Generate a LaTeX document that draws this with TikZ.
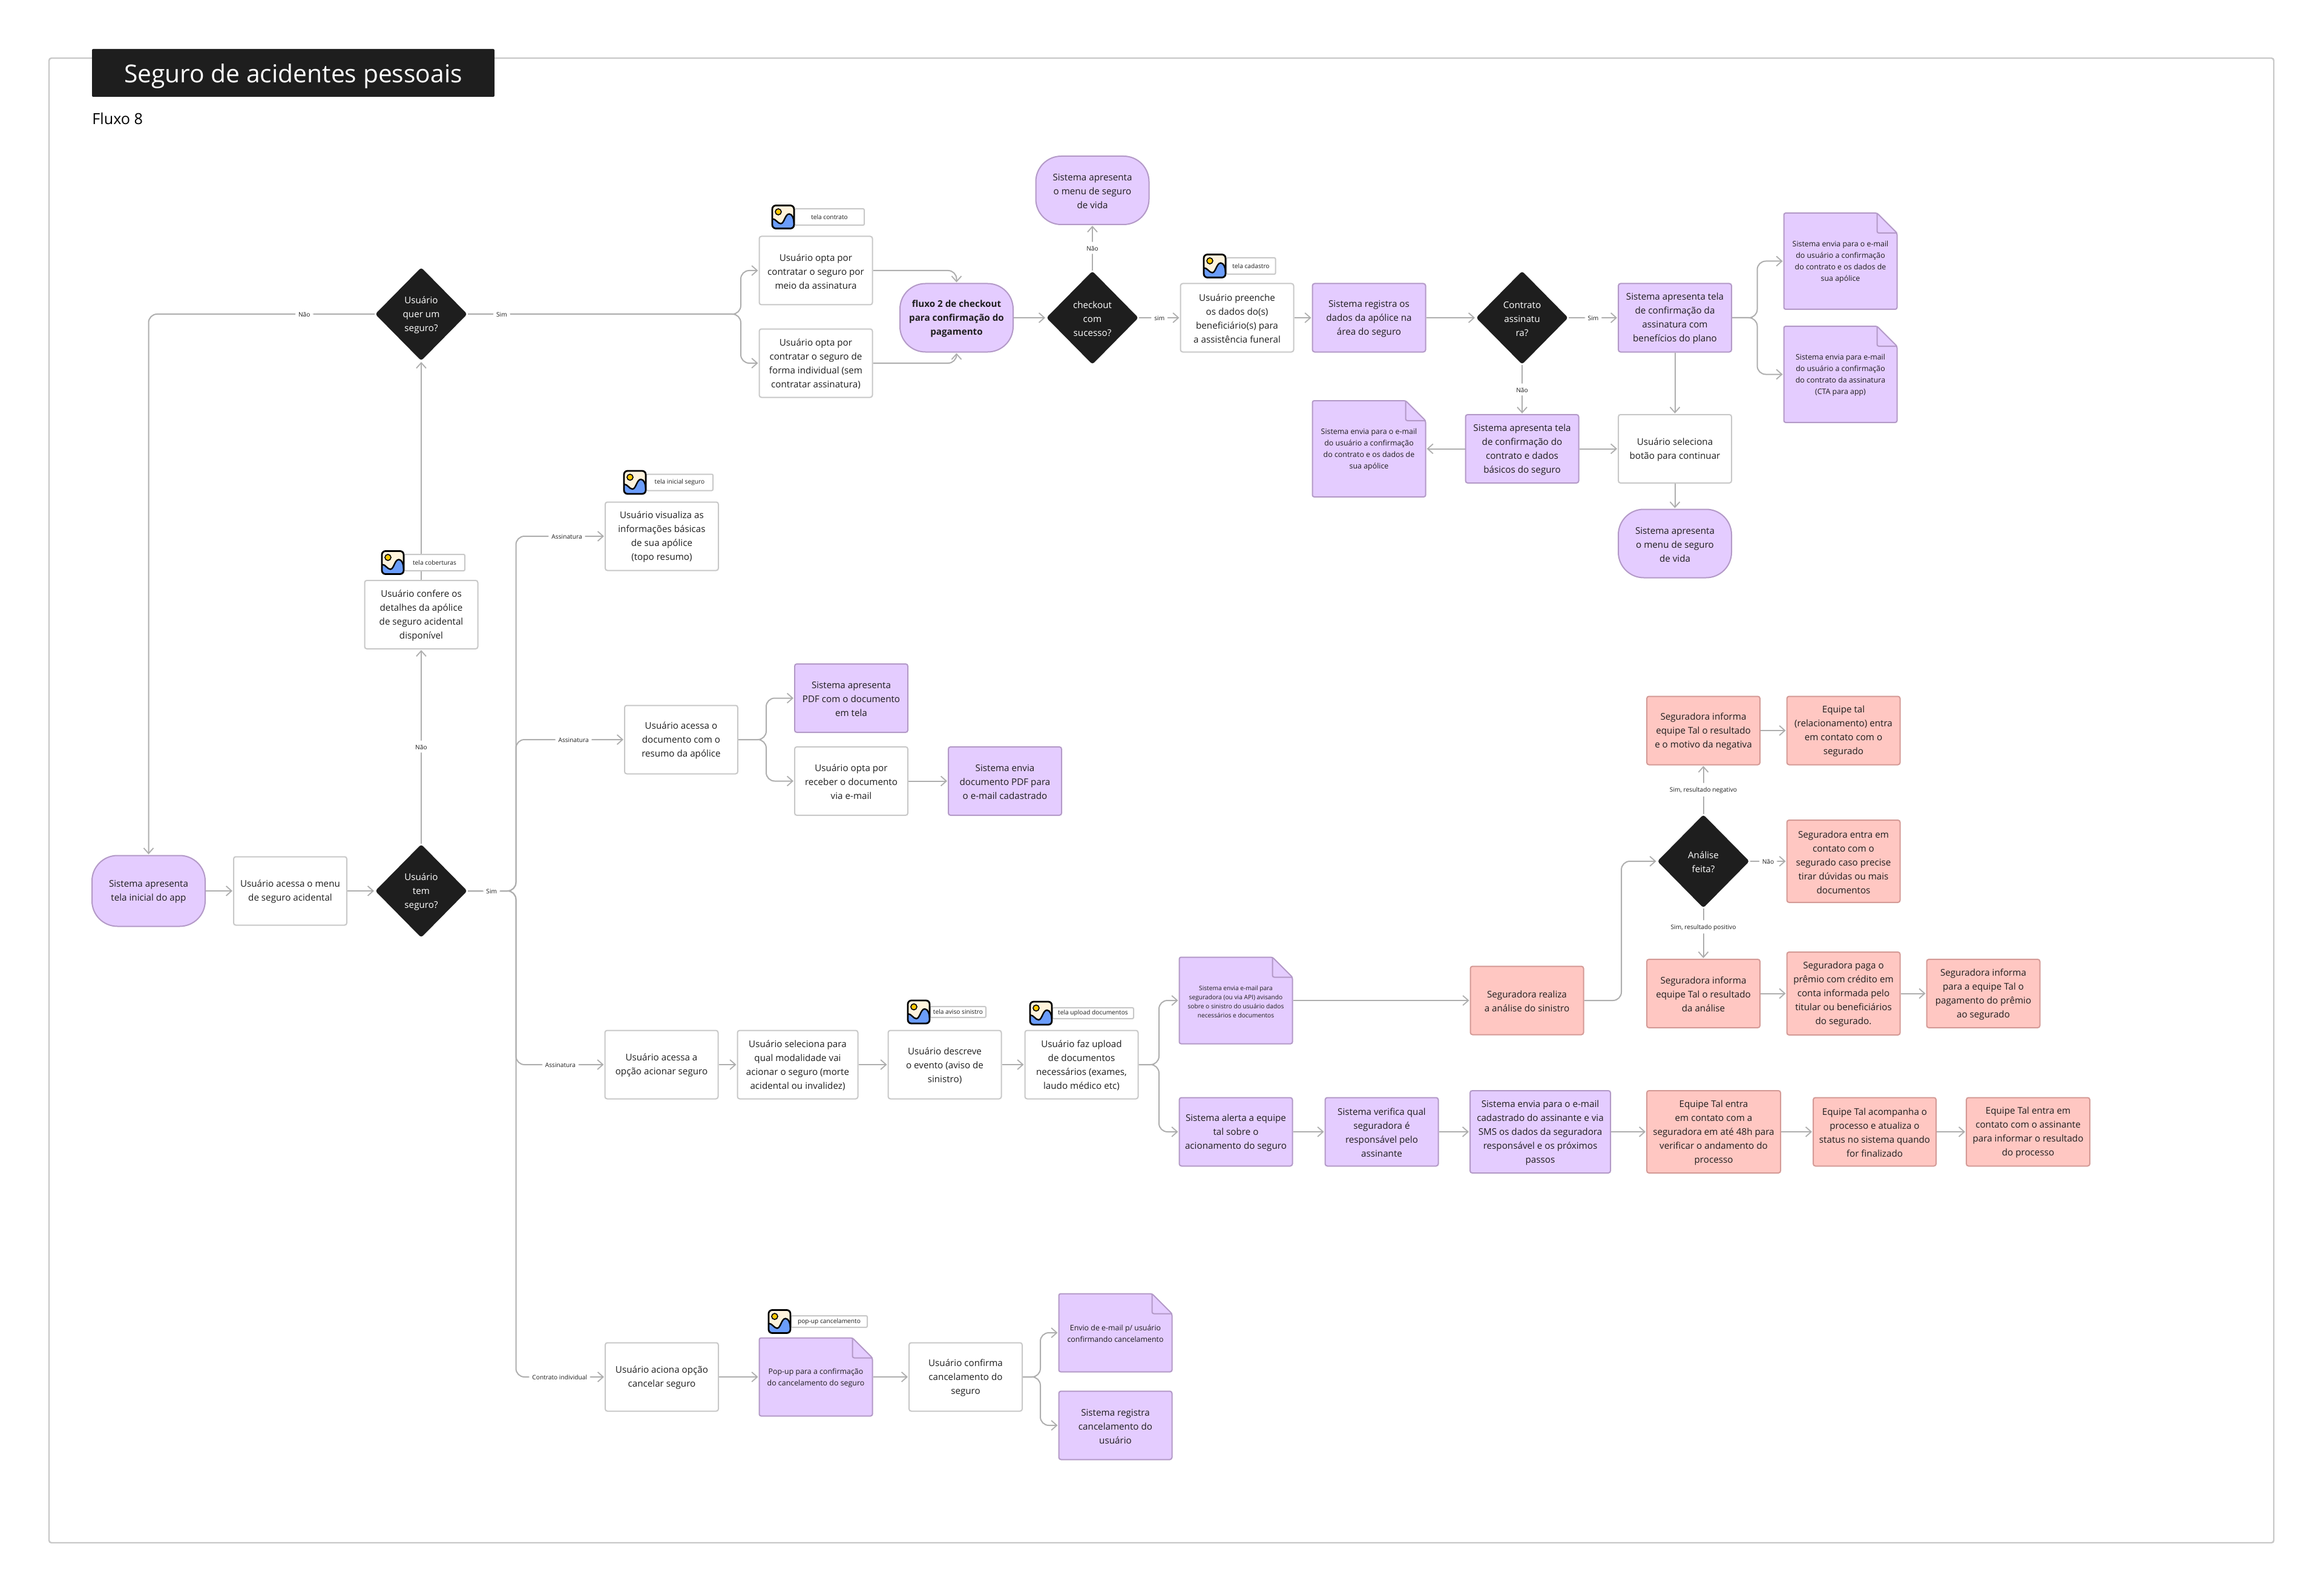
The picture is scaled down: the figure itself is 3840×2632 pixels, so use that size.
\documentclass[tikz,border=0pt]{standalone}
\usepackage{fontspec}
\setmainfont{Open Sans}
\usetikzlibrary{arrows.meta,backgrounds,shapes.geometric}

\definecolor{roxo}{HTML}{E4CCFF}
\definecolor{roxoborda}{HTML}{B399C7}
\definecolor{rosa}{HTML}{FFC7C2}
\definecolor{rosaborda}{HTML}{D49A96}
\definecolor{cinza}{HTML}{C8C8C8}
\definecolor{linha}{HTML}{AEAEAE}
\definecolor{escuro}{HTML}{1E1E1E}
\definecolor{creme}{HTML}{FFF3DC}
\definecolor{ceu}{HTML}{6B9DFB}
\definecolor{sol}{HTML}{FFC800}

\tikzset{
	tm/.style 2 args={minimum width=#1*0.5pt, minimum height=#2*0.5pt},
	wh/.style 2 args={tm={#1}{#2}, text width=#1*0.5pt-2pt},
	empurra/.style={execute at begin node={\rule{0pt}{#1}}},
	base/.style={inner sep=0pt, outer sep=0pt, align=flush center, line width=1pt, text=escuro,
		font=\fontsize{7.6}{11.5}\selectfont, wh={187}{113}},
	userbox/.style={base, empurra=7.2pt, draw=cinza, fill=white, rounded corners=1.8pt},
	sysbox/.style={base, empurra=7.2pt, draw=roxoborda, fill=roxo, rounded corners=1.8pt},
	segbox/.style={base, empurra=7.2pt, draw=rosaborda, fill=rosa, rounded corners=1.8pt},
	pillbox/.style={base, empurra=7.2pt, draw=roxoborda, fill=roxo, rounded corners=21pt},
	docbox/.style={base, empurra=6.2pt, font=\fontsize{6.2}{9.5}\selectfont, wh={187}{159}},
	decision/.style={base, empurra=7.2pt, diamond, draw=none, fill=escuro, text=white, rounded corners=2pt,
		text width=36pt, tm={152}{154}},
	tagbox/.style={base, text width=, draw=cinza, fill=white, rounded corners=1pt, font=\fontsize{5.1}{6}\selectfont},
	edgelabel/.style={inner sep=2.5pt, fill=white, text=escuro, font=\fontsize{5.1}{6}\selectfont,
		execute at begin node={\rule{0pt}{4.8pt}}},
	flow/.style={draw=linha, line width=1pt, rounded corners=7pt, shorten >=1pt, shorten <=0.5pt,
		-{Straight Barb[length=4.5pt,width=8pt,line width=0.9pt]}},
	docline/.style={draw=roxoborda, line width=1pt, rounded corners=1.5pt},
	pics/telaicon/.style={code={
		\fill[creme, rounded corners=3pt] (-18,-19) rectangle (18,19);
		\begin{scope}
			\clip[rounded corners=3pt] (-18,-19) rectangle (18,19);
			\fill[ceu] (-18,3) .. controls (-12,3) and (-9,11) .. (-4,11)
				.. controls (2,11) and (3,-5) .. (10,-5) .. controls (15,-5) and (18,3) .. (18,10)
				-- (18,19) -- (-18,19) -- cycle;
			\draw[black, line width=1.2pt] (-18,3) .. controls (-12,3) and (-9,11) .. (-4,11)
				.. controls (2,11) and (3,-5) .. (10,-5) .. controls (15,-5) and (18,3) .. (18,10);
		\end{scope}
		\draw[black, line width=0.8pt, fill=sol] (-8,-8.5) circle (2.5pt);
		\draw[black, line width=1.4pt, rounded corners=3pt] (-18,-19) rectangle (18,19);
	}},
}
\newcommand{\dobra}[1]{
	\draw[docline, fill=roxo] (#1.north west) -- ([xshift=-16.5pt]#1.north east) -- ([yshift=-16.5pt]#1.north east)
		-- (#1.south east) -- (#1.south west) -- cycle;
	\draw[docline] ([xshift=-16.5pt]#1.north east) -- ([xshift=-16.5pt,yshift=-16.5pt]#1.north east) -- ([yshift=-16.5pt]#1.north east);
}

\begin{document}
\begin{tikzpicture}[x=0.5pt,y=-0.5pt]
\useasboundingbox (0,0) rectangle (3840,2632);

% titulo
\node[base, empurra=20.5pt, fill=escuro, text=white, rounded corners=1pt, wh={665}{79}, font=\fontsize{20.4}{24}\selectfont] (titulo) at (484.5,120.5) {Seguro de acidentes pessoais};
\node[inner sep=0pt, anchor=west, font=\fontsize{12.6}{14}\selectfont] (fluxo) at (152,196) {Fluxo 8};

% coluna inicial
\node[pillbox, wh={187}{117}] (inicio) at (245.5,1472) {Sistema apresenta\\tela inicial do app};
\node[userbox] (menu) at (479.5,1472) {Usuário acessa o menu\\de seguro acidental};
\node[decision] (dtem) at (696,1472) {Usuário\\tem\\seguro?};
\node[userbox] (confere) at (696,1015.5) {Usuário confere os\\detalhes da apólice\\de seguro acidental\\disponível};
\node[decision] (dquer) at (696,519) {Usuário\\quer um\\seguro?};

% contratacao
\node[userbox] (optaassin) at (1348,447) {Usuário opta por\\contratar o seguro por\\meio da assinatura};
\node[userbox] (optaind) at (1348,600) {Usuário opta por\\contratar o seguro de\\forma individual (sem\\contratar assinatura)};
\node[pillbox, font=\fontsize{7.6}{11.5}\selectfont\bfseries] (checkout) at (1580.5,525) {fluxo 2 de checkout\\para confirmação do\\pagamento};
\node[decision] (dcheck) at (1805,525) {checkout\\com\\sucesso?};
\node[pillbox] (menuvida) at (1805,314.5) {Sistema apresenta\\o menu de seguro\\de vida};
\node[userbox] (benef) at (2044,525) {Usuário preenche\\os dados do(s)\\beneficiário(s) para\\a assistência funeral};
\node[sysbox] (registra) at (2262,525) {Sistema registra os\\dados da apólice na\\área do seguro};
\node[decision] (dassin) at (2515,525) {Contrato\\assinatu\\ra?};
\node[sysbox] (confassin) at (2767.5,525) {Sistema apresenta tela\\de confirmação da\\assinatura com\\benefícios do plano};
\node[docbox] (mailapol) at (3041,431.5) {Sistema envia para o e-mail\\do usuário a confirmação\\do contrato e os dados de\\sua apólice};
\node[docbox] (mailcta) at (3041,618.5) {Sistema envia para e-mail\\do usuário a confirmação\\do contrato da assinatura\\(CTA para app)};
\node[sysbox] (confcontr) at (2515,741.5) {Sistema apresenta tela\\de confirmação do\\contrato e dados\\básicos do seguro};
\node[docbox] (maildados) at (2262,741.5) {Sistema envia para o e-mail\\do usuário a confirmação\\do contrato e os dados de\\sua apólice};
\node[userbox] (botao) at (2767.5,741.5) {Usuário seleciona\\botão para continuar};
\node[pillbox] (menuvidab) at (2767.5,898) {Sistema apresenta\\o menu de seguro\\de vida};

% consulta
\node[userbox] (resumo) at (1093.5,886) {Usuário visualiza as\\informações básicas\\de sua apólice\\(topo resumo)};
\node[userbox] (acessadoc) at (1125.5,1222) {Usuário acessa o\\documento com o\\resumo da apólice};
\node[sysbox] (verpdf) at (1406.5,1153.5) {Sistema apresenta\\PDF com o documento\\em tela};
\node[userbox] (optapdf) at (1406.5,1290.5) {Usuário opta por\\receber o documento\\via e-mail};
\node[sysbox] (enviapdf) at (1660.5,1290.5) {Sistema envia\\documento PDF para\\o e-mail cadastrado};

% sinistro
\node[userbox] (acionar) at (1093,1759) {Usuário acessa a\\opção acionar seguro};
\node[userbox, wh={199}{113}] (modal) at (1318,1759) {Usuário seleciona para\\qual modalidade vai\\acionar o seguro (morte\\acidental ou invalidez)};
\node[userbox] (evento) at (1561,1759) {Usuário descreve\\o evento (aviso de\\sinistro)};
\node[userbox] (upload) at (1787,1759) {Usuário faz upload\\de documentos\\necessários (exames,\\laudo médico etc)};
\node[docbox, wh={187}{143}, empurra=5.1pt, font=\fontsize{5.1}{7.6}\selectfont] (mailseg) at (2042,1653) {Sistema envia e-mail para\\seguradora (ou via API) avisando\\sobre o sinistro do usuário dados\\necessários e documentos};
\node[segbox] (analise) at (2523,1653) {Seguradora realiza\\a análise do sinistro};
\node[decision] (dfeita) at (2814.5,1423) {Análise\\feita?};
\node[segbox] (negativa) at (2814.5,1207) {Seguradora informa\\equipe Tal o resultado\\e o motivo da negativa};
\node[segbox] (relac) at (3046,1207) {Equipe tal\\(relacionamento) entra\\em contato com o\\segurado};
\node[segbox, wh={187}{136}] (duvidas) at (3046,1423) {Seguradora entra em\\contato com o\\segurado caso precise\\tirar dúvidas ou mais\\documentos};
\node[segbox] (positiva) at (2814.5,1641.5) {Seguradora informa\\equipe Tal o resultado\\da análise};
\node[segbox, wh={187}{137}] (premio) at (3046,1641.5) {Seguradora paga o\\prêmio com crédito em\\conta informada pelo\\titular ou beneficiários\\do segurado.};
\node[segbox] (infopag) at (3277,1641.5) {Seguradora informa\\para a equipe Tal o\\pagamento do prêmio\\ao segurado};
\node[sysbox] (alerta) at (2042,1870) {Sistema alerta a equipe\\tal sobre o\\acionamento do seguro};
\node[sysbox] (verifica) at (2283,1870) {Sistema verifica qual\\seguradora é\\responsável pelo\\assinante};
\node[sysbox, wh={232}{136}] (sms) at (2545,1870) {Sistema envia para o e-mail\\cadastrado do assinante e via\\SMS os dados da seguradora\\responsável e os próximos\\passos};
\node[segbox, wh={221}{136}] (contato) at (2831.5,1870) {Equipe Tal entra\\em contato com a\\seguradora em até 48h para\\verificar o andamento do\\processo};
\node[segbox, wh={203}{113}] (acompanha) at (3097.5,1870) {Equipe Tal acompanha o\\processo e atualiza o\\status no sistema quando\\for finalizado};
\node[segbox, wh={204}{113}] (resultado) at (3351,1870) {Equipe Tal entra em\\contato com o assinante\\para informar o resultado\\do processo};

% cancelamento
\node[userbox] (cancela) at (1093.5,2275) {Usuário aciona opção\\cancelar seguro};
\node[docbox, wh={187}{129}] (popup) at (1348,2275) {Pop-up para a confirmação\\do cancelamento do seguro};
\node[userbox] (confcanc) at (1595.5,2275) {Usuário confirma\\cancelamento do\\seguro};
\node[docbox, wh={187}{129}] (mailcanc) at (1843,2202) {Envio de e-mail p/ usuário\\confirmando cancelamento};
\node[sysbox] (regcanc) at (1843,2355) {Sistema registra\\cancelamento do\\usuário};

% telas
\node[tagbox, tm={115}{27}] (tagcontrato) at (1370.5,358.5) {tela contrato};
\node[tagbox, tm={81}{27}] (tagcadastro) at (2067,439.5) {tela cadastro};
\node[tagbox, tm={100}{27}] (tagcober) at (718,929.5) {tela coberturas};
\node[tagbox, tm={110}{27}] (taginicial) at (1123,797) {tela inicial seguro};
\node[tagbox, tm={92}{18}] (tagaviso) at (1583,1672) {tela aviso sinistro};
\node[tagbox, tm={134}{18}] (tagupload) at (1806,1674) {tela upload documentos};
\node[tagbox, tm={126}{19}] (tagpopup) at (1370,2183.5) {pop-up cancelamento};
\pic at (1294,358.5) {telaicon};
\pic at (2007,439.5) {telaicon};
\pic at (649,929.5) {telaicon};
\pic at (1049,797) {telaicon};
\pic at (1518,1672) {telaicon};
\pic at (1720,1674) {telaicon};
\pic at (1288,2183.5) {telaicon};

% pontos de dobra
\coordinate (tronco) at (852.5,0);
\coordinate (garfoa) at (1224,0);
\coordinate (garfob) at (2903.5,0);
\coordinate (garfoc) at (1266,0);
\coordinate (garfod) at (1915,0);
\coordinate (garfoe) at (2679,0);
\coordinate (garfof) at (1719,0);
\coordinate (volta) at (245.5,0);

\begin{scope}[on background layer]
\fill[white] (0,0) rectangle (3840,2632);
\draw[cinza, line width=1.2pt, rounded corners=2pt] (81,96) rectangle (3757,2549);
\dobra{mailapol}
\dobra{mailcta}
\dobra{maildados}
\dobra{mailseg}
\dobra{popup}
\dobra{mailcanc}

\path[flow]
(inicio) edge (menu)
(menu) edge (dtem)
(dtem) edge node[edgelabel] {Não} (confere)
(confere) edge (dquer)
(dcheck) edge node[edgelabel] {Não} (menuvida)
(dcheck) edge node[edgelabel] {sim} (benef)
(checkout) edge (dcheck)
(benef) edge (registra)
(registra) edge (dassin)
(dassin) edge node[edgelabel] {Sim} (confassin)
(dassin) edge node[edgelabel] {Não} (confcontr)
(confcontr) edge (maildados)
(confcontr) edge (botao)
(confassin) edge (botao)
(botao) edge (menuvidab)
(optapdf) edge (enviapdf)
(acionar) edge (modal)
(modal) edge (evento)
(evento) edge (upload)
(mailseg) edge (analise)
(dfeita) edge node[edgelabel] {Sim, resultado negativo} (negativa)
(dfeita) edge node[edgelabel] {Não} (duvidas)
(dfeita) edge node[edgelabel, pos=0.37] {Sim, resultado positivo} (positiva)
(negativa) edge (relac)
(positiva) edge (premio)
(premio) edge (infopag)
(alerta) edge (verifica)
(verifica) edge (sms)
(sms) edge (contato)
(contato) edge (acompanha)
(acompanha) edge (resultado)
(cancela) edge (popup)
(popup) edge (confcanc);

\draw[flow] (dquer.west) -- node[edgelabel, pos=0.313] {Não} (volta |- dquer.west) -- (inicio.north);
\draw[flow] (dquer.east) -- (garfoa |- dquer.east) -- (garfoa |- optaind.west) -- (optaind.west);
\draw[flow] (dquer.east) -- node[edgelabel, pos=0.126] {Sim} (garfoa |- dquer.east) -- (garfoa |- optaassin.west) -- (optaassin.west);
\draw[flow] (optaassin.east) -| (checkout.north);
\draw[flow] (optaind.east) -| (checkout.south);
\draw[flow] (confassin.east) -- (garfob |- confassin.east) -- (garfob |- mailapol.west) -- (mailapol.west);
\draw[flow] (confassin.east) -- (garfob |- confassin.east) -- (garfob |- mailcta.west) -- (mailcta.west);

\draw[flow] (dtem.east) -- (tronco |- dtem.east) -- (tronco |- resumo.west) -- node[edgelabel, pos=0.57] {Assinatura} (resumo.west);
\draw[flow] (dtem.east) -- (tronco |- dtem.east) -- (tronco |- acessadoc.west) -- node[edgelabel, pos=0.53] {Assinatura} (acessadoc.west);
\draw[flow] (dtem.east) -- (tronco |- dtem.east) -- (tronco |- cancela.west) -- node[edgelabel, pos=0.49] {Contrato individual} (cancela.west);
\draw[flow] (dtem.east) -- node[edgelabel] {Sim} (tronco |- dtem.east) -- (tronco |- acionar.west) -- node[edgelabel] {Assinatura} (acionar.west);

\draw[flow] (acessadoc.east) -- (garfoc |- acessadoc.east) -- (garfoc |- verpdf.west) -- (verpdf.west);
\draw[flow] (acessadoc.east) -- (garfoc |- acessadoc.east) -- (garfoc |- optapdf.west) -- (optapdf.west);
\draw[flow] (upload.east) -- (garfod |- upload.east) -- (garfod |- mailseg.west) -- (mailseg.west);
\draw[flow] (upload.east) -- (garfod |- upload.east) -- (garfod |- alerta.west) -- (alerta.west);
\draw[flow] (analise.east) -- (garfoe |- analise.east) -- (garfoe |- dfeita.west) -- (dfeita.west);
\draw[flow] (confcanc.east) -- (garfof |- confcanc.east) -- (garfof |- mailcanc.west) -- (mailcanc.west);
\draw[flow] (confcanc.east) -- (garfof |- confcanc.east) -- (garfof |- regcanc.west) -- (regcanc.west);
\end{scope}
\end{tikzpicture}
\end{document}
